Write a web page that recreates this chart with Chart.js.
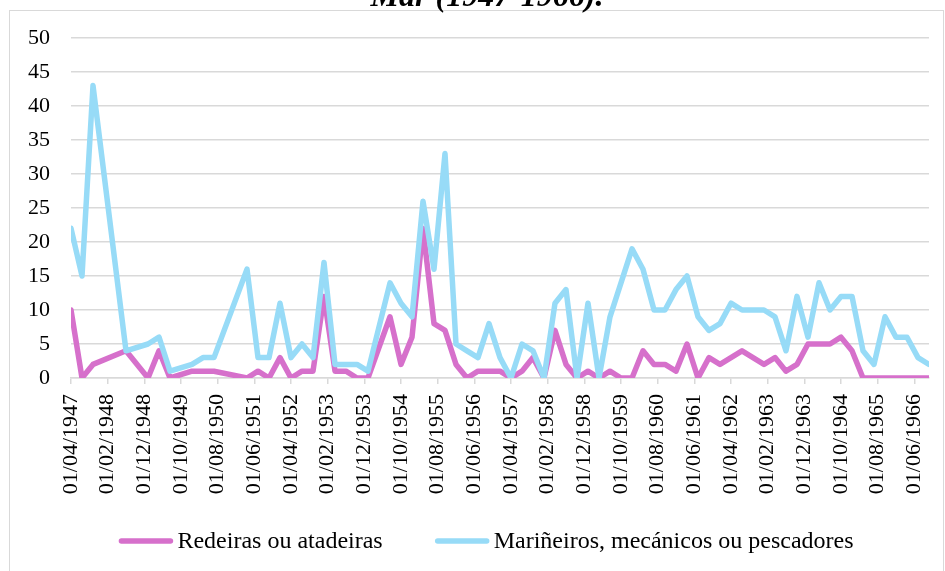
<!DOCTYPE html>
<html lang="gl">
<head>
<meta charset="utf-8">
<title>Redeiras e mariñeiros 1947-1966</title>
<script src="https://cdn.jsdelivr.net/npm/chart.js@4.4.1/dist/chart.umd.min.js"></script>
<style>
  html, body { margin: 0; padding: 0; background: #fff; }
  #caixa { width: 945px; height: 571px; }
</style>
</head>
<body>
<div id="caixa"><canvas id="grafico" width="945" height="571"></canvas></div>
<script>
// Datas dos rexistros (trimestrais, con algúns baleiros)
const fechas = [
    '01/04/1947', '01/07/1947', '01/10/1947', '01/07/1948', '01/01/1949', '01/04/1949',
    '01/07/1949', '01/01/1950', '01/04/1950', '01/07/1950', '01/04/1951', '01/07/1951',
    '01/10/1951', '01/01/1952', '01/04/1952', '01/07/1952', '01/10/1952', '01/01/1953',
    '01/04/1953', '01/07/1953', '01/10/1953', '01/01/1954', '01/07/1954', '01/10/1954',
    '01/01/1955', '01/04/1955', '01/07/1955', '01/10/1955', '01/01/1956', '01/04/1956',
    '01/07/1956', '01/10/1956', '01/01/1957', '01/04/1957', '01/07/1957', '01/10/1957',
    '01/01/1958', '01/04/1958', '01/07/1958', '01/10/1958', '01/01/1959', '01/04/1959',
    '01/07/1959', '01/10/1959', '01/01/1960', '01/04/1960', '01/07/1960', '01/10/1960',
    '01/01/1961', '01/04/1961', '01/07/1961', '01/10/1961', '01/01/1962', '01/04/1962',
    '01/07/1962', '01/10/1962', '01/01/1963', '01/04/1963', '01/07/1963', '01/10/1963',
    '01/01/1964', '01/04/1964', '01/07/1964', '01/10/1964', '01/01/1965', '01/04/1965',
    '01/07/1965', '01/10/1965', '01/01/1966', '01/04/1966', '01/07/1966', '01/10/1966'
];

const redeiras = [
    10, 0, 2, 4, 0, 4, 0, 1, 1, 1, 0, 1,
    0, 3, 0, 1, 1, 12, 1, 1, 0, 0, 9, 2,
    6, 22, 8, 7, 2, 0, 1, 1, 1, 0, 1, 3,
    0, 7, 2, 0, 1, 0, 1, 0, 0, 4, 2, 2,
    1, 5, 0, 3, 2, 3, 4, 3, 2, 3, 1, 2,
    5, 5, 5, 6, 4, 0, 0, 0, 0, 0, 0, 0
];

const marineiros = [
    22, 15, 43, 4, 5, 6, 1, 2, 3, 3, 16, 3,
    3, 11, 3, 5, 3, 17, 2, 2, 2, 1, 14, 11,
    9, 26, 16, 33, 5, 4, 3, 8, 3, 0, 5, 4,
    0, 11, 13, 0, 11, 0, 9, 14, 19, 16, 10, 10,
    13, 15, 9, 7, 8, 11, 10, 10, 10, 9, 4, 12,
    6, 14, 10, 12, 12, 4, 2, 9, 6, 6, 3, 2
];

// Etiquetas do eixo X (cada 10 meses)
const etiquetasEje = [
    '01/04/1947', '01/02/1948', '01/12/1948', '01/10/1949', '01/08/1950', '01/06/1951',
    '01/04/1952', '01/02/1953', '01/12/1953', '01/10/1954', '01/08/1955', '01/06/1956',
    '01/04/1957', '01/02/1958', '01/12/1958', '01/10/1959', '01/08/1960', '01/06/1961',
    '01/04/1962', '01/02/1963', '01/12/1963', '01/10/1964', '01/08/1965', '01/06/1966'
];

const nomesSeries = ['Redeiras ou atadeiras', 'Mariñeiros, mecánicos ou pescadores'];
const coresSeries = ['#D670CB', '#97DBF7'];
const titulo = 'Mar (1947-1966).';

const FONTE = '"Liberation Serif", "Times New Roman", serif';

// meses desde abril de 1947
function mesIndice(fecha) {
    const partes = fecha.split('/');
    return (Number(partes[2]) - 1947) * 12 + (Number(partes[1]) - 4);
}

const decoracion = {
    id: 'decoracion',
    beforeDraw(chart) {
        const ctx = chart.ctx;
        ctx.save();
        ctx.fillStyle = '#fff';
        ctx.fillRect(0, 0, chart.width, chart.height);
        ctx.strokeStyle = '#d9d9d9';
        ctx.lineWidth = 1;
        ctx.strokeRect(9.5, 10.5, 934, 600);
        ctx.fillStyle = '#000';
        ctx.font = 'italic bold 32px ' + FONTE;
        ctx.textAlign = 'center';
        ctx.textBaseline = 'alphabetic';
        ctx.fillText(titulo, 487, 6);
        ctx.restore();
    },
    afterDraw(chart) {
        // lenda inferior
        const ctx = chart.ctx;
        const ancho = 55, oco = 4, separacion = 52, yLenda = 541;
        ctx.save();
        ctx.font = '24px ' + FONTE;
        const medidas = chart.data.datasets.map(ds => ctx.measureText(ds.label).width);
        const total = medidas.reduce((a, w) => a + ancho + oco + w, 0) + separacion * (medidas.length - 1);
        let x = 486 - total / 2;
        chart.data.datasets.forEach((ds, i) => {
            ctx.strokeStyle = ds.borderColor;
            ctx.lineWidth = 5.5;
            ctx.lineCap = 'round';
            ctx.beginPath();
            ctx.moveTo(x + 3, yLenda);
            ctx.lineTo(x + ancho - 3, yLenda);
            ctx.stroke();
            ctx.fillStyle = '#000';
            ctx.textAlign = 'left';
            ctx.textBaseline = 'middle';
            ctx.fillText(ds.label, x + ancho + oco, yLenda + 1);
            x += ancho + oco + medidas[i] + separacion;
        });
        ctx.restore();
    }
};

const series = [redeiras, marineiros];

new Chart(document.getElementById('grafico'), {
    type: 'line',
    data: {
        datasets: series.map((valores, i) => ({
            label: nomesSeries[i],
            data: fechas.map((f, j) => ({ x: mesIndice(f), y: valores[j] })),
            borderColor: coresSeries[i],
            backgroundColor: coresSeries[i],
            borderWidth: 5.5,
            borderCapStyle: 'round',
            borderJoinStyle: 'round',
            pointRadius: 0,
            tension: 0,
            order: i === 0 ? 2 : 1
        }))
    },
    options: {
        responsive: false,
        devicePixelRatio: 1,
        animation: false,
        layout: { padding: { top: 38, right: 16, bottom: 66, left: 0 } },
        plugins: {
            legend: { display: false },
            tooltip: { enabled: false }
        },
        scales: {
            x: {
                type: 'linear',
                min: 0,
                max: mesIndice(fechas[fechas.length - 1]),
                afterBuildTicks: s => { s.ticks = etiquetasEje.map((_, i) => ({ value: i * 10 })); },
                afterFit: s => {
                    s.height = 127;
                    s.paddingLeft = 0;
                    s.paddingRight = 0;
                },
                ticks: {
                    autoSkip: false,
                    minRotation: 90,
                    maxRotation: 90,
                    padding: 10,
                    color: '#000',
                    font: { family: FONTE, size: 22 },
                    callback: (v, idx) => etiquetasEje[idx]
                },
                grid: { drawOnChartArea: false, drawTicks: true, tickLength: 6, color: '#d9d9d9', lineWidth: 1.5 },
                border: { color: '#d9d9d9', width: 1.5 }
            },
            y: {
                min: 0,
                max: 50,
                afterFit: s => { s.width = 71; },
                ticks: {
                    stepSize: 5,
                    padding: 21,
                    color: '#000',
                    font: { family: FONTE, size: 22 }
                },
                grid: { color: '#d9d9d9', lineWidth: 1.5, drawTicks: false },
                border: { display: false }
            }
        }
    },
    plugins: [decoracion]
});
</script>
</body>
</html>
